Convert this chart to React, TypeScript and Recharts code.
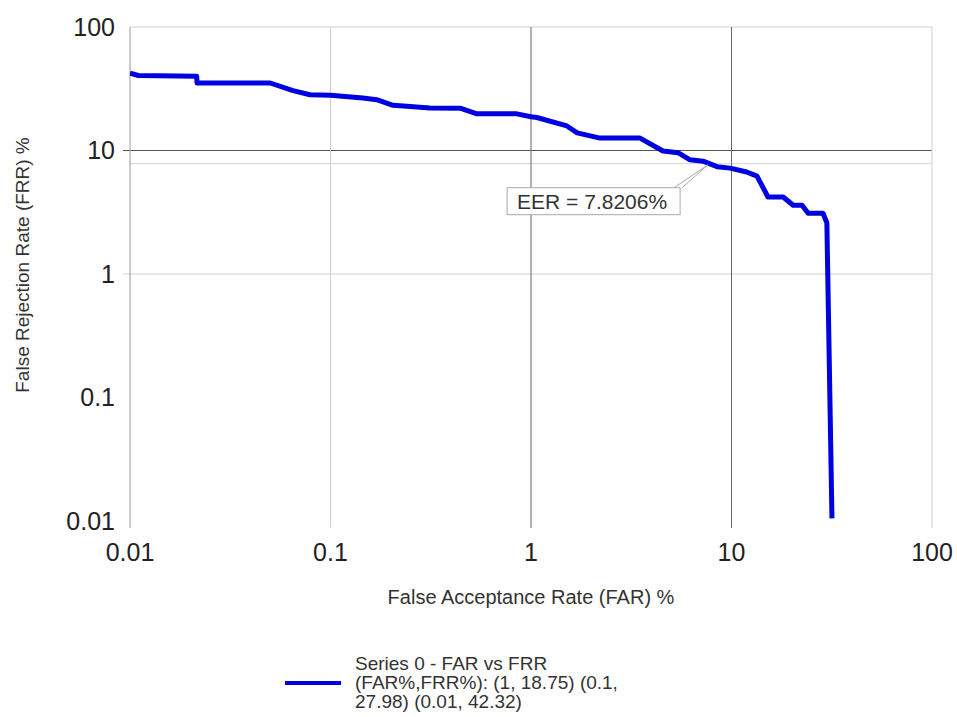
import React from 'react';
import { LineChart, Line, XAxis, YAxis, ReferenceLine, ReferenceDot, Legend } from 'recharts';

const farValues = [0.01, 0.011, 0.0215, 0.0216, 0.05, 0.065, 0.079, 0.1, 0.145, 0.17, 0.205, 0.25, 0.313, 0.443, 0.538, 0.85, 1, 1.07, 1.51, 1.7, 2.21, 3.5, 4.55, 5.41, 6.21, 7.21, 8.47, 9.84, 11.9, 13.4, 15.2, 18.1, 20.3, 22.5, 24.1, 28.6, 29.9, 31.7];
const frrValues = [42.32, 40.5, 40.0, 35.2, 35.2, 30.5, 28.3, 27.98, 26.6, 25.8, 23.2, 22.7, 22.1, 22.0, 19.8, 19.8, 18.75, 18.5, 15.8, 13.9, 12.6, 12.6, 9.9, 9.6, 8.4, 8.2, 7.4, 7.2, 6.7, 6.2, 4.2, 4.2, 3.6, 3.6, 3.1, 3.1, 2.6, 0.0105];
const decadeTicks = [0.01, 0.1, 1, 10, 100];
const eer = 7.8206;

const vGrid = [
  { v: 0.01, c: '#9a9a9a' },
  { v: 0.1, c: '#cfcfcf' },
  { v: 1, c: '#666666' },
  { v: 10, c: '#666666' },
  { v: 100, c: '#cfcfcf' },
];
const hGrid = [
  { v: 100, c: '#cfcfcf', ext: false },
  { v: 10, c: '#555555', ext: true },
  { v: 1, c: '#cfcfcf', ext: true },
];

const data = farValues.map((far, i) => ({ far, frr: frrValues[i] }));

const FONT = '"Liberation Sans", Arial, sans-serif';
const BLUE = '#0000e0';

const fmt = (v: number) => String(v);

const EerCallout = (props: any) => {
  const { cx, cy } = props;
  if (cx == null || cy == null) return null;
  const bx = cx - 203;
  const by = cy + 24;
  return (
    <g>
      <path d={`M ${cx - 36} ${by} L ${cx - 2} ${cy + 1} L ${cx - 28} ${by}`} fill="#fff" stroke="#aaaaaa" strokeWidth={1} />
      <rect x={bx} y={by} width={173} height={27} fill="#fff" stroke="#aaaaaa" strokeWidth={1} />
      <text x={bx + 10} y={by + 14} dominantBaseline="central" fontSize={21} fill="#333" fontFamily={FONT}>
        EER = 7.8206%
      </text>
    </g>
  );
};

const LegendBox = () => (
  <div style={{ display: 'flex', alignItems: 'center', fontFamily: FONT, fontSize: 19, color: '#333', lineHeight: '19px' }}>
    <svg width={70} height={10} style={{ flex: 'none' }}>
      <line x1={0} x2={56} y1={5} y2={5} stroke={BLUE} strokeWidth={4} />
    </svg>
    <div style={{ width: 320 }}>
      Series 0 - FAR vs FRR<br />
      (FAR%,FRR%): (1, 18.75) (0.1,<br />
      27.98) (0.01, 42.32)
    </div>
  </div>
);

export default function App() {
  return (
    <div style={{ position: 'absolute', left: 0, top: 0 }}>
      <LineChart width={957} height={717} data={data} margin={{ top: 27, right: 25, left: 0, bottom: 10 }}>
        <XAxis
          dataKey="far"
          type="number"
          scale="log"
          domain={[0.01, 100]}
          allowDataOverflow
          ticks={decadeTicks}
          tickFormatter={fmt}
          axisLine={false}
          tickLine={false}
          tickSize={7}
          tickMargin={15}
          height={126}
          tick={{ fontSize: 25, fill: '#222', fontFamily: FONT }}
          label={{
            content: () => (
              <text x={531} y={597} textAnchor="middle" dominantBaseline="central" fontSize={20} fill="#333" fontFamily={FONT}>
                False Acceptance Rate (FAR) %
              </text>
            ),
          }}
        />
        <YAxis
          dataKey="frr"
          type="number"
          scale="log"
          domain={[0.01, 100]}
          allowDataOverflow
          ticks={decadeTicks}
          tickFormatter={fmt}
          axisLine={false}
          tickLine={false}
          tickSize={7}
          tickMargin={8}
          width={130}
          tick={{ fontSize: 25, fill: '#222', fontFamily: FONT }}
          label={{
            content: () => (
              <text x={22} y={265} transform="rotate(-90 22 265)" textAnchor="middle" dominantBaseline="central" fontSize={19} fill="#333" fontFamily={FONT}>
                False Rejection Rate (FRR) %
              </text>
            ),
          }}
        />
        {hGrid.map((g) => (
          <ReferenceLine
            key={`h${g.v}`}
            ifOverflow="visible"
            segment={[{ x: g.ext ? 0.00923 : 0.01, y: g.v }, { x: 100, y: g.v }]}
            stroke={g.c}
            strokeWidth={1}
          />
        ))}
        <ReferenceLine ifOverflow="visible" segment={[{ x: 0.01, y: eer }, { x: 100, y: eer }]} stroke="#d4d4d4" strokeWidth={1} />
        {vGrid.map((g) => (
          <ReferenceLine
            key={`v${g.v}`}
            ifOverflow="visible"
            segment={[{ x: g.v, y: 0.00878 }, { x: g.v, y: 100 }]}
            stroke={g.c}
            strokeWidth={1}
          />
        ))}
        <Line
          type="linear"
          dataKey="frr"
          stroke={BLUE}
          strokeWidth={5}
          dot={false}
          isAnimationActive={false}
          strokeLinejoin="round"
        />
        <ReferenceDot x={eer} y={eer} ifOverflow="visible" shape={EerCallout} />
        <Legend
          content={() => <LegendBox />}
          wrapperStyle={{ left: 285, top: 654, width: 420, height: 60 }}
        />
      </LineChart>
    </div>
  );
}
